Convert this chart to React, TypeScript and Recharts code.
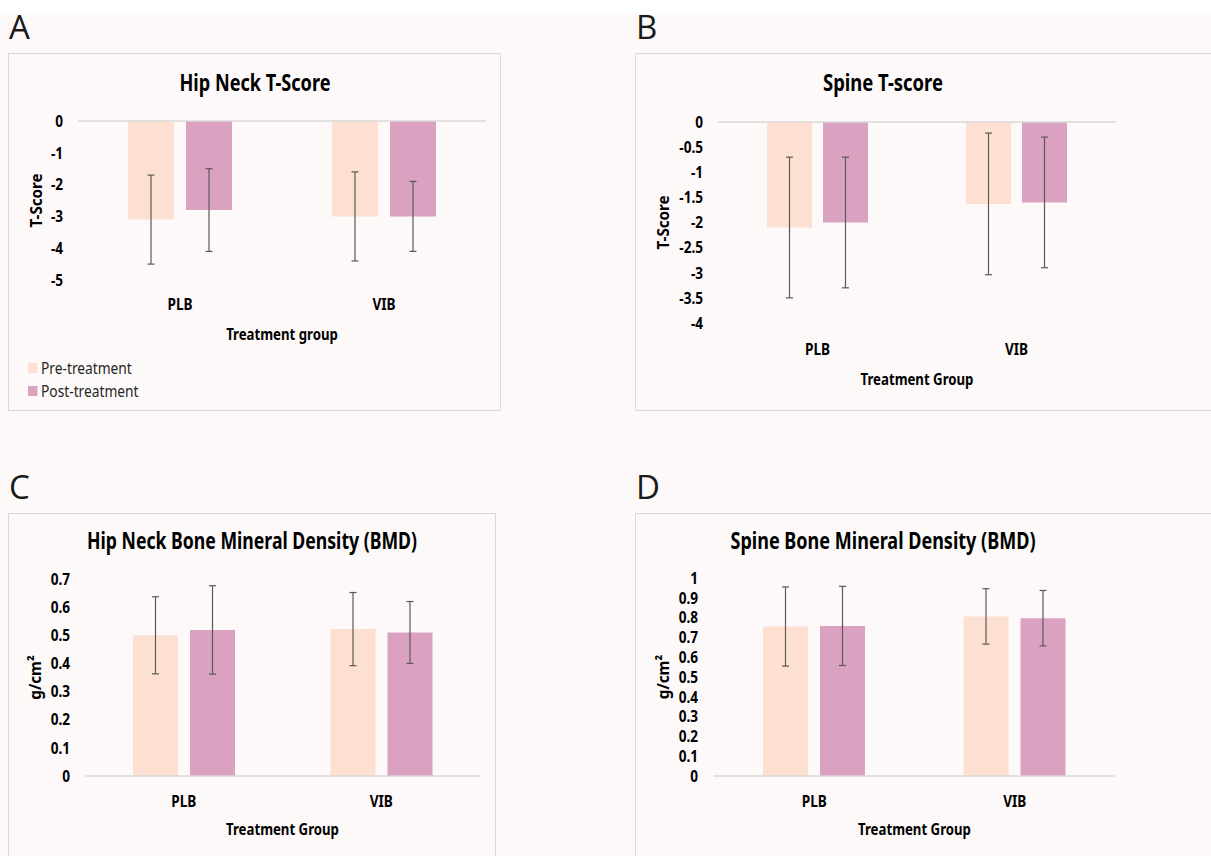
import React from "react";
import { BarChart, Bar, XAxis, YAxis, ReferenceLine, ErrorBar } from "recharts";

// groups on the x axis
const groups = ["PLB", "VIB"];

// A - hip neck T-score (mean, sd)
const hipTPre = [-3.1, -3.0];
const hipTPreSd = [1.4, 1.4];
const hipTPost = [-2.8, -3.0];
const hipTPostSd = [1.3, 1.1];
const hipTTicks = [0, -1, -2, -3, -4, -5];

// B - spine T-score
const spineTPre = [-2.1, -1.63];
const spineTPreSd = [1.4, 1.41];
const spineTPost = [-2.0, -1.6];
const spineTPostSd = [1.3, 1.3];
const spineTTicks = [0, -0.5, -1, -1.5, -2, -2.5, -3, -3.5, -4];

// C - hip neck BMD
const hipBmdPre = [0.5, 0.522];
const hipBmdPreSd = [0.137, 0.13];
const hipBmdPost = [0.519, 0.51];
const hipBmdPostSd = [0.157, 0.11];
const hipBmdTicks = [0, 0.1, 0.2, 0.3, 0.4, 0.5, 0.6, 0.7];

// D - spine BMD
const spineBmdPre = [0.755, 0.806];
const spineBmdPreSd = [0.2, 0.14];
const spineBmdPost = [0.758, 0.797];
const spineBmdPostSd = [0.2, 0.14];
const spineBmdTicks = [0, 0.1, 0.2, 0.3, 0.4, 0.5, 0.6, 0.7, 0.8, 0.9, 1];

const legendItems = ["Pre-treatment", "Post-treatment"];

const PRE = "#FEE0D2";
const POST = "#DBA1C0";
const BG = "#FDF9F8";
const FONT = "'Noto Sans', 'DejaVu Sans', sans-serif";

const rows = (pre: number[], preSd: number[], post: number[], postSd: number[]) =>
  groups.map((g, i) => ({ group: g, pre: pre[i], preErr: preSd[i], post: post[i], postErr: postSd[i] }));

const panels = [
  {
    key: "A", letter: "A", title: "Hip Neck T-Score", titleLen: 151, yLabel: "T-Score", xLabel: "Treatment group",
    data: rows(hipTPre, hipTPreSd, hipTPost, hipTPostSd), domain: [-5, 0], ticks: hipTTicks,
    box: { x: 8, y: 53, w: 493, h: 358 }, plot: { l: 78, r: 486, t: 121, b: 280 },
    tickRight: 63, catTop: 298, axTop: 328, yLabX: 36, titleX: 255, titleBase: 91, letterX: 9, letterBase: 39,
    barSize: 46, barGap: 12,
  },
  {
    key: "B", letter: "B", title: "Spine T-score", titleLen: 120, yLabel: "T-Score", xLabel: "Treatment Group",
    data: rows(spineTPre, spineTPreSd, spineTPost, spineTPostSd), domain: [-4, 0], ticks: spineTTicks,
    box: { x: 635, y: 53, w: 600, h: 358 }, plot: { l: 718, r: 1116, t: 122, b: 323 },
    tickRight: 703, catTop: 343, axTop: 373, yLabX: 663, titleX: 883, titleBase: 91, letterX: 636, letterBase: 39,
    barSize: 45, barGap: 11,
  },
  {
    key: "C", letter: "C", title: "Hip Neck Bone Mineral Density (BMD)", titleLen: 330, yLabel: "g/cm²", xLabel: "Treatment Group",
    data: rows(hipBmdPre, hipBmdPreSd, hipBmdPost, hipBmdPostSd), domain: [0, 0.7], ticks: hipBmdTicks,
    box: { x: 8, y: 513, w: 488, h: 360 }, plot: { l: 85, r: 480, t: 579, b: 776 },
    tickRight: 70, catTop: 795, axTop: 823, yLabX: 35, titleX: 252, titleBase: 549, letterX: 9, letterBase: 499,
    barSize: 45, barGap: 12,
  },
  {
    key: "D", letter: "D", title: "Spine Bone Mineral Density (BMD)", titleLen: 305, yLabel: "g/cm²", xLabel: "Treatment Group",
    data: rows(spineBmdPre, spineBmdPreSd, spineBmdPost, spineBmdPostSd), domain: [0, 1], ticks: spineBmdTicks,
    box: { x: 635, y: 513, w: 600, h: 360 }, plot: { l: 714, r: 1115, t: 578, b: 776 },
    tickRight: 698, catTop: 795, axTop: 823, yLabX: 663, titleX: 883, titleBase: 549, letterX: 636, letterBase: 499,
    barSize: 45, barGap: 12,
  },
];

// horizontally squeezed text, stands in for the narrow bold face of the original
function CondText({ x, y, text, anchor = "middle", size = 16, sx = 0.85, weight = 700, dy = "0", rotate = 0, fill = "#000" }: any) {
  return (
    <g transform={`translate(${x},${y}) rotate(${rotate}) scale(${sx},1)`}>
      <text x={0} y={0} dy={dy} textAnchor={anchor} fontSize={size} fontWeight={weight} fontFamily={FONT} fill={fill}>
        {text}
      </text>
    </g>
  );
}

const XTick = (props: any) => <CondText x={props.x} y={props.y} dy="0.72em" text={props.payload.value} />;
const YTick = (props: any) => <CondText x={props.x} y={props.y} dy="0.36em" anchor="end" text={String(props.payload.value)} />;

function Panel({ p }: { p: any }) {
  const { box, plot } = p;
  const W = 1211 - box.x;
  const Hc = 856 - box.y;
  const ml = 8;
  const xH = 60;
  const yW = plot.l - box.x - ml;
  const margin = {
    top: plot.t - box.y,
    left: ml,
    right: W - (plot.r - box.x),
    bottom: Hc - (plot.b - box.y) - xH,
  };
  return (
    <>
      <div
        style={{
          position: "absolute", left: box.x, top: box.y, width: box.w, height: box.h,
          border: "1.5px solid #D9D9D9", boxSizing: "border-box", background: BG,
        }}
      />
      <div style={{ position: "absolute", left: box.x, top: box.y }}>
        <BarChart width={W} height={Hc} data={p.data} margin={margin} barSize={p.barSize} barGap={p.barGap}>
          <XAxis
            dataKey="group"
            height={xH}
            axisLine={false}
            tickLine={false}
            interval={0}
            tickMargin={p.catTop - plot.b - 6}
            tick={XTick}
          />
          <YAxis
            type="number"
            domain={p.domain}
            ticks={p.ticks}
            interval={0}
            width={yW}
            axisLine={false}
            tickLine={false}
            tickMargin={plot.l - p.tickRight - 6}
            tick={YTick}
          />
          <ReferenceLine y={0} stroke="#D9D9D9" strokeWidth={1.5} />
          <Bar dataKey="pre" name={legendItems[0]} fill={PRE} isAnimationActive={false}>
            <ErrorBar dataKey="preErr" width={3.5} stroke="#595959" strokeWidth={1.2} direction="y" />
          </Bar>
          <Bar dataKey="post" name={legendItems[1]} fill={POST} isAnimationActive={false}>
            <ErrorBar dataKey="postErr" width={3.5} stroke="#595959" strokeWidth={1.2} direction="y" />
          </Bar>
        </BarChart>
      </div>
    </>
  );
}

export default function App() {
  return (
    <div style={{ position: "absolute", left: 0, top: 0, width: 1211, height: 856, overflow: "hidden", background: "#fff" }}>
      <div style={{ position: "absolute", left: 0, top: 13, width: 1211, height: 843, background: BG }} />
      {panels.map((p) => (
        <Panel key={p.key} p={p} />
      ))}
      <svg width={1211} height={856} style={{ position: "absolute", left: 0, top: 0, pointerEvents: "none" }}>
        {panels.map((p) => (
          <g key={p.key}>
            <text x={p.letterX} y={p.letterBase} fontSize={33} fontFamily="'Open Sans', sans-serif" fill="#1a1a1a">
              {p.letter}
            </text>
            <text
              x={p.titleX} y={p.titleBase} textAnchor="middle" fontSize={23} fontWeight={700}
              fontFamily={FONT} fill="#000" textLength={p.titleLen} lengthAdjust="spacingAndGlyphs"
            >
              {p.title}
            </text>
            <CondText x={(p.plot.l + p.plot.r) / 2} y={p.axTop} dy="0.72em" size={16.5} sx={0.8} text={p.xLabel} />
            <CondText
              x={p.yLabX} y={(p.plot.t + p.plot.b) / 2} dy="0.36em" size={16.5} sx={0.92} rotate={-90} text={p.yLabel}
            />
          </g>
        ))}
        {/* legend of panel A */}
        {legendItems.map((label, i) => (
          <g key={label}>
            <rect x={28} y={363 + i * 23} width={9.5} height={10} fill={i === 0 ? PRE : POST} />
            <CondText x={41} y={374 + i * 23} anchor="start" size={17} weight={400} sx={0.81} fill="#262626" text={label} />
          </g>
        ))}
      </svg>
    </div>
  );
}
